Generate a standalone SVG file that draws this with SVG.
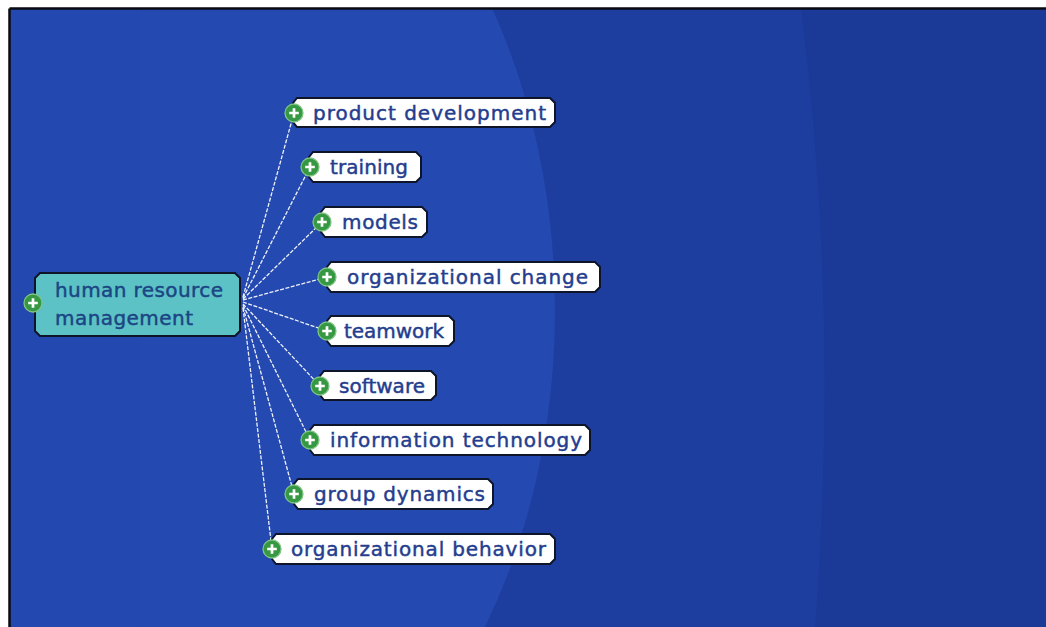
<svg xmlns="http://www.w3.org/2000/svg" width="1046" height="627" viewBox="0 0 1046 627">
<defs>
<style>
.box{fill:#ffffff;stroke:#0e1528;stroke-width:2}
.root{fill:#5cc2c6;stroke:#0e1528;stroke-width:2}
.lbl{font-family:"DejaVu Sans",Verdana,sans-serif;font-size:20px;fill:#243d8e;stroke:#243d8e;stroke-width:0.45}
.rlbl{font-family:"DejaVu Sans",Verdana,sans-serif;font-size:20px;fill:#1b4584;stroke:#1b4584;stroke-width:0.45}
.edge{stroke:#eef2fa;stroke-width:1.3;stroke-dasharray:4 1.5;fill:none}
</style>
<clipPath id="frame"><rect x="10" y="9" width="1036" height="618"/></clipPath>
<g id="plus">
<circle r="9" fill="#379843" stroke="#7fc483" stroke-width="1.3"/>
<path d="M-4.8 0H4.8M0 -4.8V4.8" stroke="#ffffff" stroke-width="2.7"/>
</g>
</defs>
<rect x="0" y="0" width="1046" height="627" fill="#ffffff"/>
<g clip-path="url(#frame)">
<rect x="0" y="0" width="1046" height="627" fill="#1d3e9f"/>
<path d="M1046 0 L800 0 Q840 310 815 627 L1046 627 Z" fill="#1b3996"/>
<ellipse cx="150" cy="310" rx="405" ry="564" fill="#2449b0"/>
<rect x="0" y="0" width="140" height="627" fill="#2248ad" opacity="0.18"/>
</g>
<path d="M9.5 8.5H1046M9.5 8.5V627" stroke="#0a0a12" stroke-width="2.5" fill="none"/>

<g id="connectors">
<line class="edge" x1="243" y1="297" x2="294" y2="113"/>
<line class="edge" x1="243" y1="298" x2="310" y2="167"/>
<line class="edge" x1="243" y1="299" x2="322" y2="222"/>
<line class="edge" x1="243" y1="300" x2="327" y2="277"/>
<line class="edge" x1="243" y1="302" x2="327" y2="331"/>
<line class="edge" x1="243" y1="304" x2="320" y2="386"/>
<line class="edge" x1="243" y1="305" x2="310" y2="440"/>
<line class="edge" x1="243" y1="307" x2="294" y2="494"/>
<line class="edge" x1="243" y1="308" x2="272" y2="549"/>
</g>

<g id="node-hrm">
<path class="root" d="M40 273H235L240 278V331L235 336H40L35 331V278Z"/>
<use href="#plus" x="33" y="303"/>
<text class="rlbl" x="55" y="297" textLength="168" lengthAdjust="spacing">human resource</text>
<text class="rlbl" x="55" y="325" textLength="138" lengthAdjust="spacing">management</text>
</g>

<g id="node-product-development">
<path class="box" d="M297 98H550L555 103V122L550 127H297L293 122V103Z"/>
<use href="#plus" x="294" y="113"/>
<text class="lbl" x="313" y="120" textLength="233" lengthAdjust="spacing">product development</text>
</g>

<g id="node-training">
<path class="box" d="M313 152H416L421 157V177L416 182H313L309 177V157Z"/>
<use href="#plus" x="310" y="167"/>
<text class="lbl" x="330" y="174" textLength="78" lengthAdjust="spacing">training</text>
</g>

<g id="node-models">
<path class="box" d="M325 207H422L427 212V232L422 237H325L321 232V212Z"/>
<use href="#plus" x="322" y="222"/>
<text class="lbl" x="342" y="229" textLength="76" lengthAdjust="spacing">models</text>
</g>

<g id="node-organizational-change">
<path class="box" d="M331 262H595L600 267V287L595 292H331L327 287V267Z"/>
<use href="#plus" x="327" y="277"/>
<text class="lbl" x="347" y="284" textLength="241" lengthAdjust="spacing">organizational change</text>
</g>

<g id="node-teamwork">
<path class="box" d="M331 316H449L454 321V341L449 346H331L327 341V321Z"/>
<use href="#plus" x="327" y="331"/>
<text class="lbl" x="344" y="338" textLength="100" lengthAdjust="spacing">teamwork</text>
</g>

<g id="node-software">
<path class="box" d="M324 371H431L436 376V395L431 400H324L320 395V376Z"/>
<use href="#plus" x="320" y="386"/>
<text class="lbl" x="339" y="393" textLength="86" lengthAdjust="spacing">software</text>
</g>

<g id="node-information-technology">
<path class="box" d="M314 425H585L590 430V450L585 455H314L310 450V430Z"/>
<use href="#plus" x="310" y="440"/>
<text class="lbl" x="330" y="447" textLength="252" lengthAdjust="spacing">information technology</text>
</g>

<g id="node-group-dynamics">
<path class="box" d="M298 479H488L493 484V504L488 509H298L294 504V484Z"/>
<use href="#plus" x="294" y="494"/>
<text class="lbl" x="314" y="501" textLength="171" lengthAdjust="spacing">group dynamics</text>
</g>

<g id="node-organizational-behavior">
<path class="box" d="M276 534H550L555 539V559L550 564H276L272 559V539Z"/>
<use href="#plus" x="272" y="549"/>
<text class="lbl" x="291" y="556" textLength="255" lengthAdjust="spacing">organizational behavior</text>
</g>
</svg>
